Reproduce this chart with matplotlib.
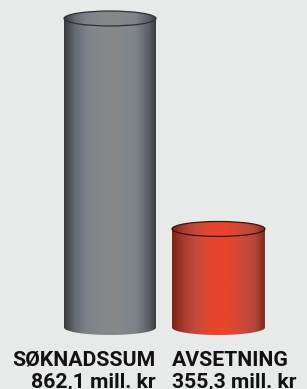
import numpy as np
import matplotlib.pyplot as plt
from matplotlib.colors import LinearSegmentedColormap
from matplotlib.patches import Polygon, Ellipse

# data
labels = ["SØKNADSSUM", "AVSETNING"]
amounts = ["862,1 mill. kr", "355,3 mill. kr"]
values = [862.1, 355.3]
base = 118  # cylinders sit on this level, not on zero

gray = LinearSegmentedColormap.from_list("gray", [
    (0.0, "#38393c"), (0.12, "#666b72"), (0.25, "#7c838c"), (0.4, "#868788"),
    (0.6, "#888888"), (0.78, "#7d848d"), (0.92, "#5e6166"), (1.0, "#3c3c3e")])
red = LinearSegmentedColormap.from_list("red", [
    (0.0, "#7a2418"), (0.12, "#a83a2e"), (0.25, "#c44a3e"), (0.42, "#e6452c"),
    (0.6, "#e8452c"), (0.78, "#c94a3c"), (0.9, "#b0463a"), (1.0, "#7c2a1c")])
cmaps = [gray, red]
outline = ["#2e3034", "#3a140c"]

fig = plt.figure(figsize=(3.07, 3.89), dpi=100)
fig.patch.set_facecolor('#e8eae9')
ax = fig.add_axes([0, 0, 1, 1])
ax.set_facecolor('#e8eae9')

widths = [0.848, 0.857]
eh = 36  # ellipse height in data units

def cylinder(x, w, top, bottom, cmap, ec):
    t = np.linspace(0, np.pi, 80)
    rx, ry = w / 2, eh / 2
    bx = x - rx * np.cos(t)
    by = bottom - ry * np.sin(t)
    tx = x + rx * np.cos(t)
    ty = top + ry * np.sin(t)
    verts = np.concatenate([np.column_stack([bx, by]), np.column_stack([tx, ty])])
    poly = Polygon(verts, closed=True, facecolor='none', edgecolor='none')
    ax.add_patch(poly)
    grad = np.linspace(0, 1, 256).reshape(1, -1)
    im = ax.imshow(grad, cmap=cmap, extent=[x - rx, x + rx, bottom - ry, top + ry],
                   aspect='auto', interpolation='bilinear', zorder=2)
    im.set_clip_path(poly)
    ax.add_patch(Ellipse((x, top), w, eh, fill=False, ec=ec, lw=0.9, zorder=3))

for i, v in enumerate(values):
    cylinder(i, widths[i], v, base, cmaps[i], outline[i])

ax.set_xlim(-1.014, 1.816)
ax.set_ylim(-30.1, 906.6)
ax.axis('off')

trans = ax.get_xaxis_transform()
font = dict(family=['Roboto', 'DejaVu Sans'], weight='bold', size=15.3, color='#111111')
ax.text(0 + widths[0] / 2, 0.06, labels[0], ha='right', va='baseline', transform=trans, **font)
ax.text(0 + widths[0] / 2, 0.004, amounts[0], ha='right', va='baseline', transform=trans, **font)
ax.text(1 - widths[1] / 2, 0.06, labels[1], ha='left', va='baseline', transform=trans, **font)
ax.text(1 - widths[1] / 2, 0.004, amounts[1], ha='left', va='baseline', transform=trans, **font)

fig.savefig("out.png", dpi=100, facecolor=fig.get_facecolor())
